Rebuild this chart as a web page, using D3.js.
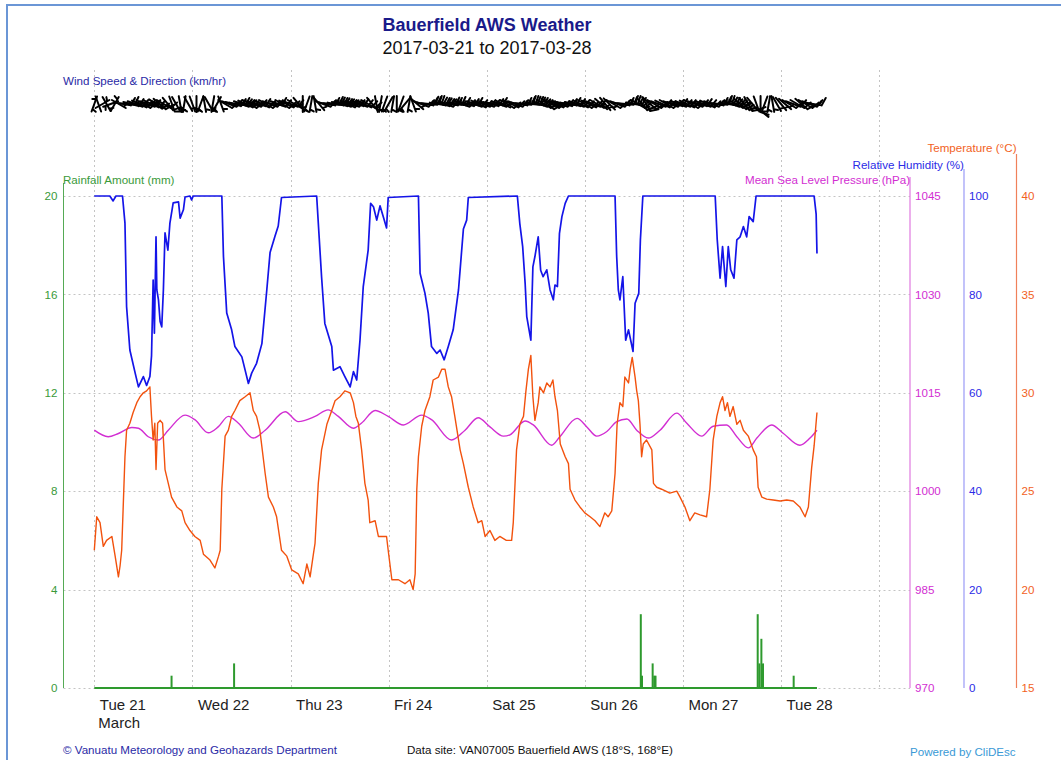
<!DOCTYPE html>
<html><head><meta charset="utf-8">
<script src="https://cdn.jsdelivr.net/npm/d3@7"></script>
<style>
body{margin:0;background:#fff;}
svg{display:block;font-family:"Liberation Sans",Arial,Helvetica,sans-serif;}
</style>
</head><body>
<svg id="chart" width="1061" height="760"></svg>
<script>
// ---------------- DATA (hours since 2017-03-21 00:00 local) ----------------
const startDate = new Date(2017, 2, 21, 0, 0);
const endHour = 176.8;

const humHours = [0,3.8,4.6,5.3,6.9,7.5,7.9,8.7,10.0,10.8,12.0,12.8,13.6,14.0,14.4,14.7,15.1,15.3,15.7,16.1,16.5,16.9,17.3,18.0,18.5,19.3,20.6,21.0,21.8,22.2,23.4,23.8,24.2,
  31.2,31.6,32.4,33.6,34.4,36.1,36.9,37.7,38.5,39.7,41.0,42.2,43.0,44.2,45.0,45.8,
  54.4,55.6,56.4,58.1,58.5,60.1,61.3,62.6,63.4,64.2,65.0,65.8,67.0,67.6,68.3,69.1,69.9,70.7,71.5,71.9,
  79.3,79.7,80.9,81.7,82.5,83.8,84.6,85.6,86.6,87.8,89.1,90.3,91.1,91.5,
  103.5,104.1,104.8,105.4,105.8,106.8,107.3,107.8,108.6,109.2,109.8,110.7,111.5,112.3,112.7,113.3,113.8,114.4,115.2,116.0,
  127.4,127.8,128.2,128.6,129.3,130.0,130.7,131.8,132.3,133.2,133.6,134.2,
  151.9,152.4,153.1,153.7,154.5,155.1,155.7,156.5,157.2,158.0,158.8,159.6,160.2,161.2,161.9,
  176.1,176.6,176.8];
const humVals = [100,100,99,100,100,94.5,77.5,68.7,64.0,61.2,63.3,61.5,63.3,67.5,82.9,72.1,91.7,80.9,78.9,74.5,73.4,80.9,92.5,89,94.5,98.6,98.8,95.5,97.2,99.8,100,99.2,100,
  100,87.7,76.2,72.8,69.4,67.3,64.6,61.9,64.0,66.0,70,80.9,88.5,91.8,93.9,99.7,
  100,83.6,74.1,69.4,64.6,65.3,63.3,61.2,64.3,62.6,70.7,81.6,89.0,98.5,97.8,95.1,98,95.8,93.5,99.7,
  100,84.3,80.2,76.2,69.4,68.0,68.7,66.7,69.4,72.8,80.9,93.3,95.1,99.7,
  100,94.4,89.7,82.3,75.5,70.7,85.6,87.7,91.7,84.9,83.6,85.0,80.9,78.9,81.9,81.6,92.4,95.8,98.5,100,
  100,87.7,80.9,78.9,83.6,70.7,72.8,68.4,78.2,80.2,91.1,100,
  100,91.1,83.3,89.7,81.6,89.7,85.0,83.3,91.1,91.7,93.8,91.7,95.8,94.8,100,
  100,96.3,88.3];

const tempHours = [0,0.6,1.4,2.2,3.0,4.3,5.1,5.9,6.3,6.7,7.5,7.9,8.7,9.5,10.4,11.2,12.0,12.8,13.6,14.0,14.4,14.8,15.1,15.5,16.1,16.7,17.3,18.1,18.9,20.2,21.4,22.2,23.4,24.6,25.9,26.7,28.3,29.5,30.4,30.8,
  31.2,32.0,32.8,33.6,34.4,35.6,36.9,38.1,38.9,39.7,40.5,41.8,42.6,43.8,44.6,45.8,47.1,48.3,49.9,51.1,52.0,52.8,53.6,54.0,
  54.8,55.6,56.9,58.1,58.9,60.1,61.3,62.6,63.4,64.0,64.6,65.4,66.2,67.0,67.4,68.7,69.5,71.5,71.9,72.8,74.4,76.0,77.2,78.0,78.5,
  78.9,79.3,80.1,80.9,82.1,82.9,84.2,85.0,85.8,86.6,87.4,88.2,89.5,90.3,91.5,92.7,93.9,94.8,95.6,96.8,98.0,99.2,100.8,102.1,102.5,
  103.3,104.1,105.0,105.6,106.2,106.8,107.3,107.8,108.6,109.0,109.9,110.7,111.5,112.2,112.7,113.3,114.0,115.2,116.0,116.4,117.6,118.8,120.0,121.3,122.5,123.7,124.9,125.7,126.6,
  127.4,127.9,128.6,129.3,129.8,130.7,131.1,131.6,132.3,132.7,133.1,133.5,133.9,134.3,135.1,136.4,136.8,137.6,138.8,140.8,142.5,143.3,144.5,145.7,146.9,148.2,149.8,
  150.6,151.4,152.3,153.1,153.7,154.3,154.9,155.5,156.3,157.2,158.0,158.8,160.0,161.2,162.0,162.4,163.3,164.5,166.1,167.8,169.4,171.0,172.6,173.9,174.7,175.5,176.1,176.8];
const tempVals = [22.0,23.7,23.4,22.2,22.5,22.7,21.7,20.65,21.2,22.0,26.75,28.1,28.45,29.0,29.5,29.8,30.0,30.1,30.3,28.8,27.6,28.45,26.1,28.45,28.6,28.45,26.1,25.4,24.7,24.2,24.0,23.4,23.0,22.7,22.5,21.8,21.5,21.1,21.7,22.0,
  25.1,27.8,28.1,28.8,29.1,29.6,29.8,30.0,29.1,28.8,28.1,25.9,24.7,24.2,23.7,22.0,21.7,21.0,20.8,20.3,21.3,20.65,21.8,22.35,
  25.4,27.1,28.4,29.1,29.6,29.8,30.1,30.0,29.5,28.8,28.45,27.1,25.4,24.55,23.4,23.5,22.7,22.7,22.0,20.5,20.5,20.3,20.5,20.0,20.8,
  25.1,26.75,28.3,29.1,29.8,30.65,30.8,31.2,31.2,30.3,29.8,28.8,27.1,26.4,25.2,24.2,23.4,23.5,22.7,23.0,22.5,22.7,22.5,22.5,23.4,
  27.1,28.4,28.8,30.1,31.2,31.9,29.8,28.6,29.5,30.3,30.0,30.5,30.3,30.65,29.8,29.1,27.4,26.75,26.4,25.1,24.55,24.2,23.9,23.7,23.5,23.2,23.9,23.7,24.0,
  25.9,28.4,29.5,29.3,30.8,30.5,31.2,31.8,30.8,30.1,29.6,28.4,26.75,27.4,27.6,27.1,25.4,25.2,25.1,24.9,25.0,24.7,24.2,23.5,23.9,23.8,23.7,
  25.1,27.6,28.8,29.5,29.8,29.1,29.5,28.8,29.3,28.4,28.6,28.1,27.8,27.1,26.75,25.2,24.7,24.6,24.55,24.5,24.55,24.5,24.2,23.7,24.2,26.2,27.3,29.0];

const presHours = [0,3.4,5.9,9.2,10.8,13.2,15.7,18.1,22.2,24.6,27.9,30.3,32.8,35.2,38.9,41.8,46.7,49.9,54.0,57.2,59.7,63.4,65.4,68.7,71.9,75.6,80.1,82.5,87.4,90.7,93.9,96.8,
  100.1,101.7,105.4,107.4,111.9,113.9,118.1,120.5,122.9,125.4,127.8,130.3,132.7,135.5,138.4,142.5,144.9,148.6,151.4,154.7,157.2,160.0,162.1,165.7,168.6,172.6,175.1,176.8];
const presVals = [1009.3,1008.3,1008.8,1009.7,1009.6,1008.3,1007.8,1009.3,1011.6,1010.9,1008.9,1009.8,1011.4,1010.4,1008.1,1009.3,1012.1,1010.6,1011.4,1012.4,1011.4,1009.6,1010.4,1012.3,1011.4,1010.1,1011.6,1010.9,1007.8,1009.3,1011.2,1009.8,
  1008.4,1008.6,1010.7,1010.1,1007.0,1008.3,1011.1,1009.8,1008.4,1009.1,1010.6,1011.0,1009.3,1008.1,1009.3,1011.9,1010.4,1008.4,1009.9,1010.1,1008.3,1006.6,1008.1,1010.1,1008.8,1007.0,1008.1,1009.3];

const rainHours = [18.9,34.2,133.7,134.0,136.6,137.0,137.3,162.3,162.7,163.2,163.6,171.1];
const rainVals  = [0.5,1.0,3.0,0.5,1.0,0.5,0.5,3.0,1.0,2.0,1.0,0.5];

// hourly wind, 2017-03-21 00:00 .. 2017-03-28 08:00
const windDir = [200,340,60,150,250,30,120,100,95,105,110,115,120,110,115,125,130,120,140,160,150,170,190,150,
  160,180,200,170,150,190,210,160,120,110,105,100,110,115,120,110,105,115,120,110,100,110,120,115,
  110,120,140,180,200,190,170,140,110,100,95,100,105,110,115,110,105,110,115,120,140,170,190,200,
  210,190,180,200,220,190,160,130,110,100,95,90,100,105,110,100,95,100,110,105,100,110,115,110,
  110,105,100,110,115,120,115,110,100,95,90,95,100,110,120,130,120,115,110,105,100,105,110,115,
  120,115,110,120,130,140,135,120,110,100,95,90,100,120,140,150,130,120,110,115,120,110,105,110,
  110,115,120,110,105,110,115,110,100,95,90,100,110,120,130,140,150,140,160,180,200,190,170,150,
  140,130,120,110,120,130,120,110,100];
const windSpd = [3,4,3,5,4,3,6,9,12,14,16,17,18,17,16,15,13,11,9,8,7,6,6,7,
  6,5,5,6,4,5,5,7,10,13,15,17,18,18,17,16,14,12,10,10,9,9,8,8,
  8,7,6,5,5,4,5,7,11,14,16,18,19,19,18,17,15,12,10,8,7,6,5,5,
  5,5,4,5,4,4,5,7,10,14,18,20,22,22,21,19,17,14,12,11,10,10,9,9,
  9,8,8,7,7,8,8,10,13,16,18,20,21,22,21,19,16,14,12,11,10,10,9,9,
  9,8,8,7,7,6,7,9,12,15,17,19,20,18,16,14,13,12,11,10,10,10,9,9,
  9,9,8,8,8,8,9,10,13,16,18,20,21,20,18,16,14,12,10,9,8,7,7,7,
  7,7,8,8,8,9,10,12,14];

const dayTickLabels = ["Tue 21","Wed 22","Thu 23","Fri 24","Sat 25","Sun 26","Mon 27","Tue 28"];
const rainTicks = [0,4,8,12,16,20];
const presTicks = [970,985,1000,1015,1030,1045];
const humTicks  = [0,20,40,60,80,100];
const tempTicks = [15,20,25,30,35,40];

// ---------------- HELPERS ----------------
const hToDate = h => new Date(startDate.getTime() + h * 3600e3);
const svg = d3.select("#chart");
const small = 11.6;

const x = d3.scaleTime().domain([new Date(2017,2,21), new Date(2017,2,29)]).range([94.3, 879.1]);
const yTop = 196, yBot = 688;
const yR = d3.scaleLinear().domain([0,20]).range([yBot,yTop]);
const yP = d3.scaleLinear().domain([970,1045]).range([yBot,yTop]);
const yH = d3.scaleLinear().domain([0,100]).range([yBot,yTop]);
const yT = d3.scaleLinear().domain([15,40]).range([yBot,yTop]);

const xLeft = 63.5, xP = 910, xH = 964, xTa = 1016.5;

// frame
svg.append("path").attr("d", "M7,762V5H1063").attr("fill","none").attr("stroke","#6b96d6").attr("stroke-width",2);

// title
svg.append("text").attr("x",487).attr("y",31).attr("text-anchor","middle")
  .attr("font-size",18).attr("font-weight","bold").attr("fill","#1a1a8a").text("Bauerfield AWS Weather");
svg.append("text").attr("x",487).attr("y",54).attr("text-anchor","middle")
  .attr("font-size",18).attr("fill","#111").text("2017-03-21 to 2017-03-28");

// grid
const days = d3.timeDay.range(new Date(2017,2,21), new Date(2017,2,30));
const grid = svg.append("g").attr("stroke","#c4c4c4").attr("stroke-width",1).attr("stroke-dasharray","2,3");
grid.selectAll("line.v").data(days).join("line")
  .attr("x1",d=>Math.round(x(d))+0.5).attr("x2",d=>Math.round(x(d))+0.5).attr("y1",70).attr("y2",yBot);
grid.selectAll("line.h").data(rainTicks).join("line")
  .attr("x1",xLeft).attr("x2",xP).attr("y1",d=>Math.round(yR(d))+0.5).attr("y2",d=>Math.round(yR(d))+0.5);

// wind label
svg.append("text").attr("x",63).attr("y",85).attr("font-size",small).attr("fill","#2a2aa6").text("Wind Speed & Direction (km/hr)");

// wind barbs (staff centred on the observation time)
const windG = svg.append("g").attr("stroke","#000").attr("stroke-width",2).attr("fill","none").attr("stroke-linecap","round");
const windCy = 104;
windDir.forEach((dir, i) => {
  const cx = x(hToDate(i));
  const a = dir * Math.PI / 180;
  const ux = Math.sin(a), uy = -Math.cos(a);
  const L = 16, F = 8, gap = 2.6;
  const sx = cx - ux * L / 2, sy = windCy - uy * L / 2;
  const ex = cx + ux * L / 2, ey = windCy + uy * L / 2;
  const px = uy, py = -ux;
  let p = `M${sx},${sy}L${ex},${ey}`;
  const n = Math.round(windSpd[i] / 5);
  const full = Math.floor(n / 2), half = n % 2;
  let d = 0;
  for (let k = 0; k < full; k++) {
    const bx = ex - ux * d, by = ey - uy * d;
    p += `M${bx},${by}l${px * F + ux * F * 0.35},${py * F + uy * F * 0.35}`;
    d += gap;
  }
  if (half) {
    if (full === 0) d = gap;
    const bx = ex - ux * d, by = ey - uy * d;
    p += `M${bx},${by}l${(px * F + ux * F * 0.35) / 2},${(py * F + uy * F * 0.35) / 2}`;
  }
  windG.append("path").attr("d", p);
});

// ---------------- AXES ----------------
const gL = svg.append("g").attr("transform",`translate(${xLeft},0)`)
  .call(d3.axisLeft(yR).tickValues(rainTicks).tickSize(0).tickPadding(6));
gL.select(".domain").remove();
gL.selectAll("text").attr("font-size",small).attr("fill","#3a9a3a").attr("font-family",null);
svg.append("line").attr("x1",xLeft).attr("x2",xLeft).attr("y1",183).attr("y2",yBot).attr("stroke","#55aa55").attr("stroke-width",1);
svg.append("text").attr("x",63).attr("y",184).attr("font-size",small).attr("fill","#3a9a3a").text("Rainfall Amount (mm)");

function rightAxis(scale, ticks, xpos, topY, lineColor, textColor, title, titleY) {
  const g = svg.append("g").attr("transform",`translate(${xpos},0)`)
    .call(d3.axisRight(scale).tickValues(ticks).tickSize(0).tickPadding(5).tickFormat(d3.format("d")));
  g.select(".domain").remove();
  g.selectAll("text").attr("font-size",small).attr("fill",textColor).attr("font-family",null);
  svg.append("line").attr("x1",xpos).attr("x2",xpos).attr("y1",topY).attr("y2",yBot).attr("stroke",lineColor).attr("stroke-width",1.2);
  svg.append("text").attr("x",xpos).attr("y",titleY).attr("text-anchor","end").attr("font-size",small).attr("fill",textColor).text(title);
}
rightAxis(yP, presTicks, xP, 177, "#e07ae0", "#d22ed2", "Mean Sea Level Pressure (hPa)", 184);
rightAxis(yH, humTicks, xH, 169, "#9a9af6", "#2b2be6", "Relative Humidity (%)", 168.5);
rightAxis(yT, tempTicks, xTa, 154, "#f0805a", "#f2621e", "Temperature (°C)", 152);

const gX = svg.append("g").attr("transform",`translate(0,${yBot})`)
  .call(d3.axisBottom(x).tickValues(days.slice(0, dayTickLabels.length)).tickSize(0).tickPadding(11)
    .tickFormat((d,i) => dayTickLabels[i]));
gX.select(".domain").remove();
gX.selectAll("text").attr("font-size",15).attr("fill","#222").attr("font-family",null)
  .attr("text-anchor","start").attr("dx",5);
svg.append("text").attr("x",x(days[0]) + 4).attr("y",728).attr("font-size",15).attr("fill","#222").text("March");

// ---------------- SERIES ----------------
svg.append("line").attr("x1",x(hToDate(0))).attr("x2",x(hToDate(endHour)))
  .attr("y1",yR(0)).attr("y2",yR(0)).attr("stroke","#2e9a2e").attr("stroke-width",2);
svg.append("g").selectAll("line").data(rainHours).join("line")
  .attr("x1",(h)=>x(hToDate(h))).attr("x2",(h)=>x(hToDate(h)))
  .attr("y1",yR(0)).attr("y2",(h,i)=>yR(rainVals[i]))
  .attr("stroke","#2e9a2e").attr("stroke-width",2);

const presLine = d3.line().x((h)=>x(hToDate(h))).y((h,i)=>yP(presVals[i])).curve(d3.curveMonotoneX);
svg.append("path").attr("d",presLine(presHours)).attr("fill","none").attr("stroke","#d22ed2").attr("stroke-width",1.4);

const tempLine = d3.line().x((h)=>x(hToDate(h))).y((h,i)=>yT(tempVals[i]));
svg.append("path").attr("d",tempLine(tempHours)).attr("fill","none").attr("stroke","#f2520e").attr("stroke-width",1.4).attr("stroke-linejoin","round");

const humLine = d3.line().x((h)=>x(hToDate(h))).y((h,i)=>yH(humVals[i]));
svg.append("path").attr("d",humLine(humHours)).attr("fill","none").attr("stroke","#1414e8").attr("stroke-width",1.7).attr("stroke-linejoin","round");

// footer
svg.append("text").attr("x",63).attr("y",754).attr("font-size",small).attr("fill","#2a2aa6").text("© Vanuatu Meteorology and Geohazards Department");
svg.append("text").attr("x",407).attr("y",754).attr("font-size",small).attr("fill","#111").text("Data site: VAN07005 Bauerfield AWS (18°S, 168°E)");
svg.append("text").attr("x",910).attr("y",756).attr("font-size",small).attr("fill","#3a9ad6").text("Powered by CliDEsc");
</script>
</body></html>
